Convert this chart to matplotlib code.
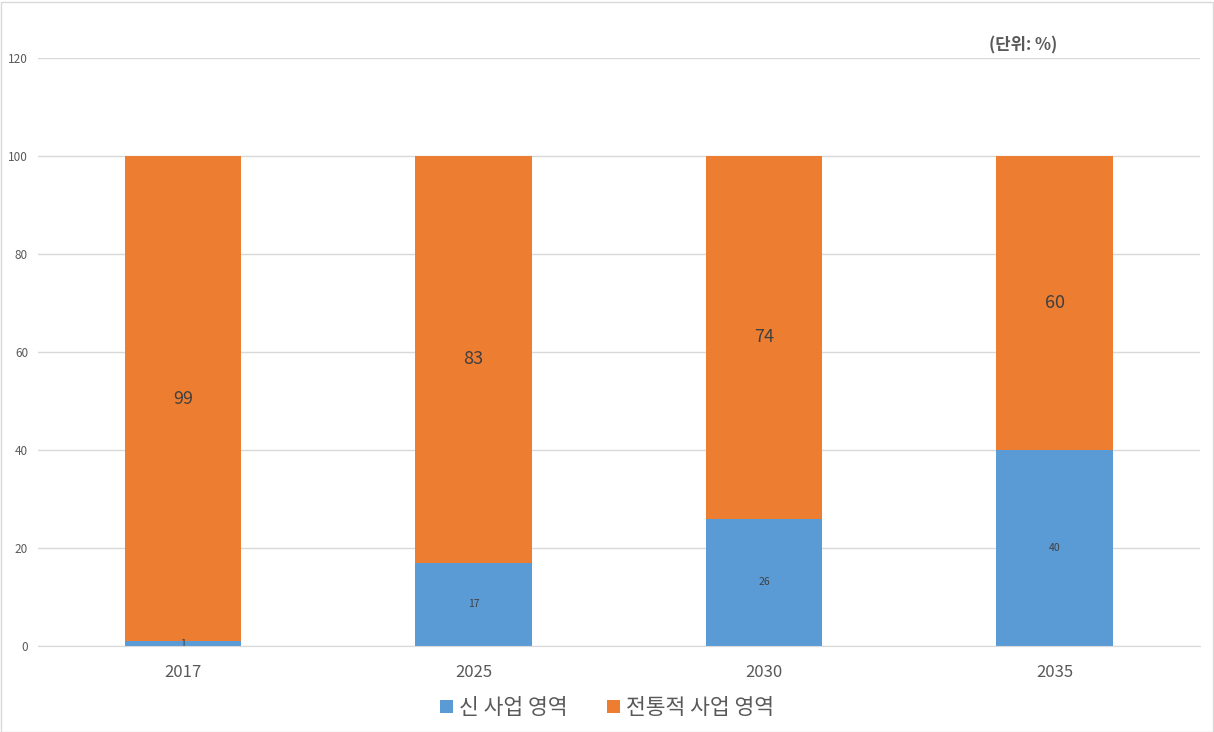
import matplotlib
matplotlib.use("Agg")
import matplotlib.pyplot as plt
from matplotlib.patches import Rectangle

plt.rcParams['font.family'] = ['Noto Sans CJK KR', 'DejaVu Sans']

years = ['2017', '2025', '2030', '2035']
new_biz = [1, 17, 26, 40]
trad_biz = [99, 83, 74, 60]
series_names = ['신 사업 영역', '전통적 사업 영역']
yticks = [0, 20, 40, 60, 80, 100, 120]
unit_text = '(단위: %)'

c_blue = '#5B9BD5'
c_orange = '#ED7D31'
grid_c = '#D9D9D9'
txt_c = '#595959'

W, H = 1214, 732
fig = plt.figure(figsize=(W / 100, H / 100), dpi=100)
ax = fig.add_axes([37.75 / W, 86 / H, (1199.75 - 37.75) / W, (646 - 58) / H])

x = list(range(len(years)))
b1 = ax.bar(x, new_biz, width=0.4, color=c_blue, label=series_names[0], zorder=3)
b2 = ax.bar(x, trad_biz, width=0.4, bottom=new_biz, color=c_orange, label=series_names[1], zorder=3)

for i in x:
    ax.text(i, new_biz[i] / 2, str(new_biz[i]), ha='center', va='center',
            fontsize=7.5, color='#404040', zorder=4)
    ax.text(i, new_biz[i] + trad_biz[i] / 2, str(trad_biz[i]), ha='center', va='center',
            fontsize=13, color='#404040', zorder=4)

ax.set_xlim(-0.5, len(years) - 0.5)
ax.set_ylim(0, 120)
ax.set_yticks(yticks)
ax.set_yticklabels([str(t) for t in yticks], fontsize=8.5, color=txt_c)
ax.set_xticks(x)
ax.set_xticklabels(years, fontsize=12, color=txt_c)
ax.tick_params(axis='y', length=0, pad=7)
ax.tick_params(axis='x', length=0, pad=13)
ax.grid(axis='y', color=grid_c, linewidth=1, zorder=0)
for s in ['top', 'right', 'left']:
    ax.spines[s].set_visible(False)
ax.spines['bottom'].set_color(grid_c)
ax.spines['bottom'].set_zorder(5)

fig.text(1023 / W, 1 - 45 / H, unit_text, ha='center', va='center',
         fontsize=12, fontweight='bold', color=txt_c)

leg = fig.legend(handles=[b1, b2], labels=series_names, loc='center',
                 bbox_to_anchor=(0.5, 1 - 708 / H), ncol=2, frameon=False,
                 fontsize=15.5, handlelength=0.6, handleheight=0.6,
                 handletextpad=0.3, columnspacing=1.8)
for t in leg.get_texts():
    t.set_color(txt_c)

fig.patches.append(Rectangle((0.5 / W, 0.5 / H), 1 - 2 / W, 1 - 2 / H,
                             transform=fig.transFigure, fill=False,
                             edgecolor='#D9D9D9', linewidth=1))

fig.savefig('out.png', dpi=100)
